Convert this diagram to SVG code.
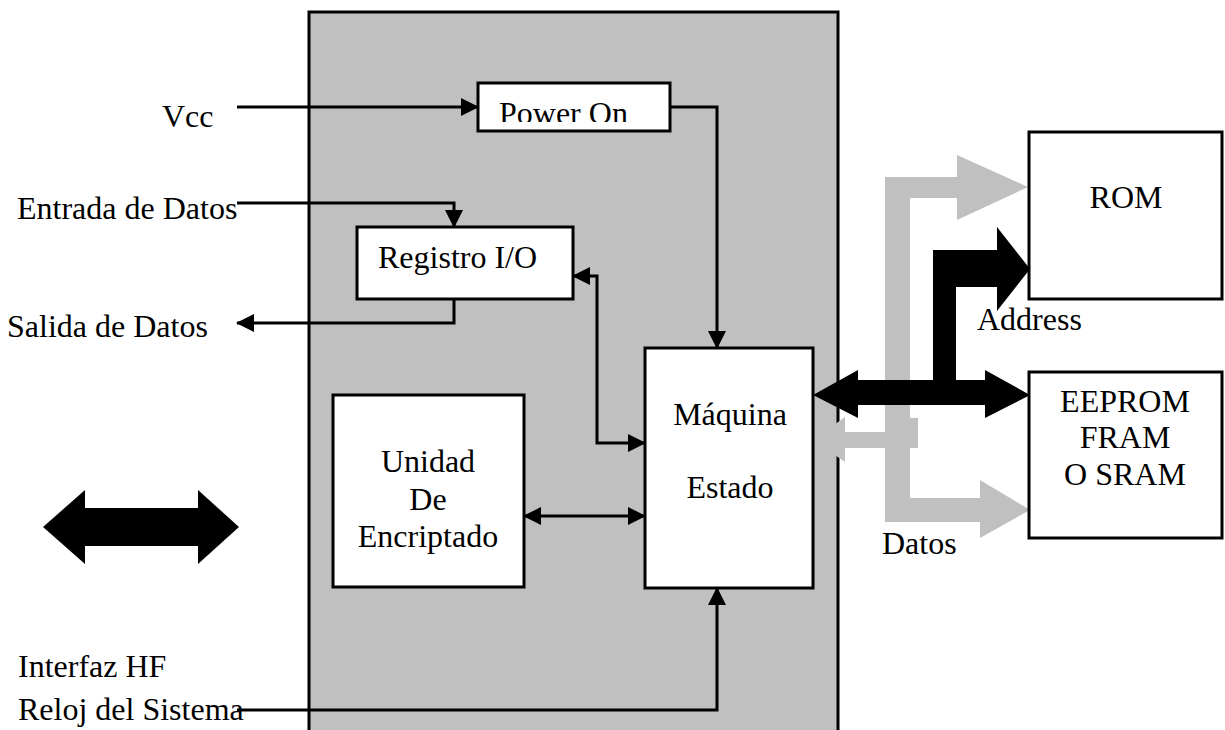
<svg xmlns="http://www.w3.org/2000/svg" width="1225" height="730" viewBox="0 0 1225 730">
  <style>
    text { font-family: "Liberation Serif", "Times New Roman", serif; font-size: 32px; fill: #000; }
    .box { fill: #fff; stroke: #000; stroke-width: 3; }
    .wire { fill: none; stroke: #000; stroke-width: 3; }
    .bus-grey { fill: #c0c0c0; }
    .bus-black { fill: #000; }
  </style>
  <defs>
    <marker id="tip" markerUnits="userSpaceOnUse" markerWidth="18" markerHeight="18" viewBox="0 0 18 18" refX="17" refY="9" orient="auto-start-reverse">
      <path d="M0,0 L18,9 L0,18 Z" fill="#000"/>
    </marker>
    <clipPath id="powerClip">
      <rect x="478" y="83" width="192" height="39"/>
    </clipPath>
  </defs>

  <rect width="1225" height="730" fill="#fff"/>

  <!-- chip body -->
  <rect id="chip" x="309" y="12" width="529" height="730" fill="#c0c0c0" stroke="#000" stroke-width="3"/>

  <!-- data bus (grey) -->
  <g id="bus-datos">
    <path class="bus-grey" d="M885,177 L957,177 L957,155 L1028,187 L957,220 L957,198 L910,198 L910,498 L980,498 L980,480 L1030,510 L980,538 L980,522 L885,522 Z"/>
    <path class="bus-grey" d="M918,418 L918,448 L845,448 L845,462 L813,440 L845,417 L845,432 L910,432 L910,418 Z"/>
  </g>

  <!-- address bus (black) -->
  <g id="bus-address">
    <path class="bus-black" d="M813,395 L858,370 L858,380 L933,380 L933,250 L997,250 L997,227 L1030,269 L997,311 L997,287 L956,287 L956,380 L985,380 L985,370 L1030,395 L985,418 L985,405 L858,405 L858,418 Z"/>
  </g>

  <!-- HF interface symbol -->
  <g id="hf-interface">
    <path class="bus-black" d="M43,527 L85,490 L85,508 L198,508 L198,490 L239,527 L198,564 L198,546 L85,546 L85,564 Z"/>
  </g>

  <g id="power-on">
    <rect class="box" x="478" y="83" width="192" height="48"/>
    <text x="499" y="124" clip-path="url(#powerClip)">Power On</text>
  </g>

  <g id="registro">
    <rect class="box" x="357" y="227" width="216" height="72"/>
    <text x="378" y="268">Registro I/O</text>
  </g>

  <g id="unidad">
    <rect class="box" x="333" y="395" width="191" height="192"/>
    <text x="428" y="472" text-anchor="middle">Unidad</text>
    <text x="428" y="510" text-anchor="middle">De</text>
    <text x="428" y="547" text-anchor="middle">Encriptado</text>
  </g>

  <g id="maquina">
    <rect class="box" x="645" y="348" width="168" height="240"/>
    <text x="730" y="425" text-anchor="middle">Máquina</text>
    <text x="730" y="498" text-anchor="middle">Estado</text>
  </g>

  <g id="rom">
    <rect class="box" x="1029" y="132" width="193" height="167"/>
    <text x="1126" y="208" text-anchor="middle">ROM</text>
  </g>

  <g id="eeprom">
    <rect class="box" x="1029" y="372" width="193" height="166"/>
    <text x="1125" y="412" text-anchor="middle">EEPROM</text>
    <text x="1125" y="448" text-anchor="middle">FRAM</text>
    <text x="1125" y="485" text-anchor="middle">O SRAM</text>
  </g>

  <!-- external labels -->
  <g id="labels">
    <text x="162" y="127">Vcc</text>
    <text x="17" y="219">Entrada de Datos</text>
    <text x="7" y="337">Salida de Datos</text>
    <text x="18" y="677">Interfaz HF</text>
    <text x="18" y="720">Reloj del Sistema</text>
    <text x="977" y="330">Address</text>
    <text x="882" y="554">Datos</text>
  </g>

  <!-- signal lines -->
  <g id="connectors">
    <path class="wire" d="M237,107 H478" marker-end="url(#tip)"/>
    <path class="wire" d="M670,107 H717 V348" marker-end="url(#tip)"/>
    <path class="wire" d="M237,203 H454 V227" marker-end="url(#tip)"/>
    <path class="wire" d="M454,299 V323 H237" marker-end="url(#tip)"/>
    <path class="wire" d="M573,276 H597 V443 H645" marker-start="url(#tip)" marker-end="url(#tip)"/>
    <path class="wire" d="M524,516 H645" marker-start="url(#tip)" marker-end="url(#tip)"/>
    <path class="wire" d="M237,710 H717 V588" marker-end="url(#tip)"/>
  </g>
</svg>
